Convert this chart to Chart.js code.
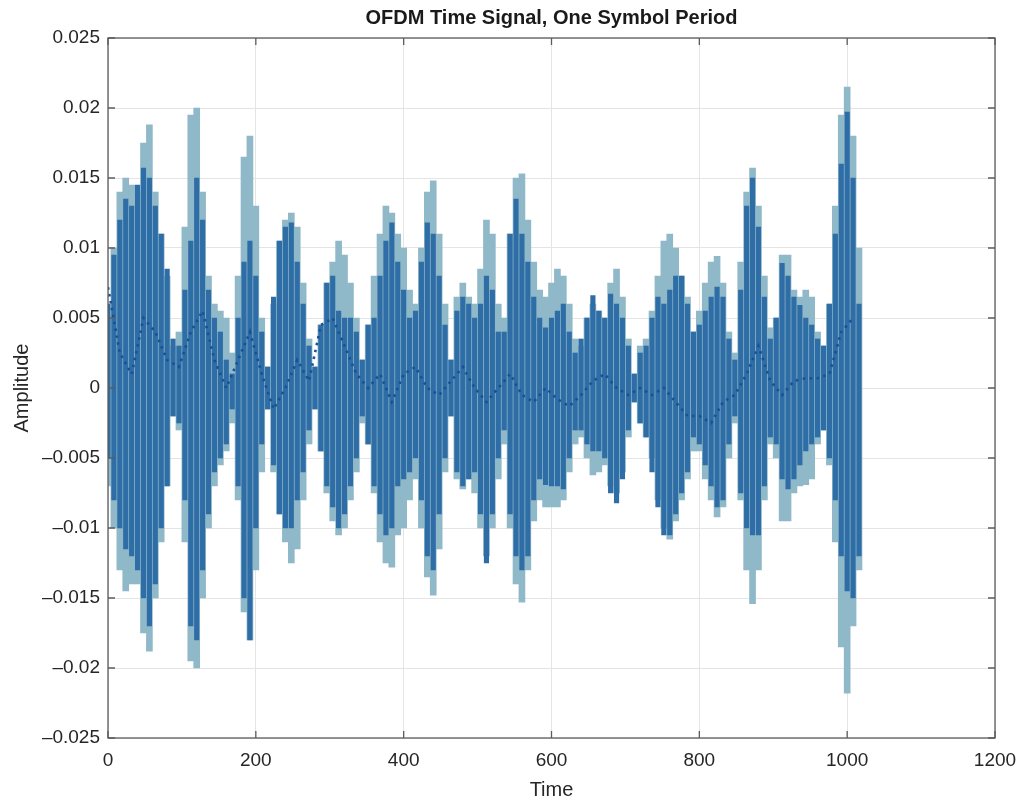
<!DOCTYPE html>
<html>
<head>
<meta charset="utf-8">
<title>OFDM Time Signal</title>
<script src="https://cdn.jsdelivr.net/npm/chart.js@4.4.1/dist/chart.umd.min.js"></script>
<style>
    html, body { margin: 0; padding: 0; background: #ffffff; }
    #wrap { width: 1018px; height: 803px; }
</style>
</head>
<body>
<div id="wrap"><canvas id="ofdmChart"></canvas></div>
<script>
// Envelope of each trace, every 8 samples (units of 1e-3)
const SAMPLE_STEP = 8;
const AMP_UNIT = 0.001;

const lightUpper = [
    5, 10, 14, 15, 14.5, 14, 17.5, 18.8, 14, 11, 8, 3, 4, 11.5, 19.5, 20, 14, 8, 6, 5.5, 5, 2.5, 8, 16.5, 18, 13,
    5, 1.5, 6, 10.5, 12, 12.5, 11.5, 7.5, 3.5, 1.5, 4.5, 7.5, 9, 10.5, 9.5, 7.5, 5, 2, 4.5, 8, 11, 13, 12.5, 11, 10,
    7, 6, 10, 14, 14.8, 11, 6, 2, 6.5, 7.5, 6.5, 6, 8.5, 12, 11, 6, 5, 11, 15, 15.3, 12, 9, 7, 6.5,
    7.5, 8.5, 8, 6, 3.5, 3, 5, 6, 5.5, 5, 7.5, 8.5, 6.5, 3.5, 1, 3, 3.5, 5.5, 8, 10.5, 11, 10, 8, 6.5, 4,
    5.5, 7.5, 9, 9.4, 7.5, 4, 2.5, 9, 14, 15.7, 13, 8, 4.3, 5, 9.5, 9.5, 7, 6.5, 7, 6.5, 4, 3, 6, 13, 19.5, 21.5, 18, 10
];
const lightLower = [
    -7, -10, -13, -14.5, -14, -14, -17.5, -18.8, -15, -11, -7, -2, -3, -11, -19.5, -20, -15, -10, -7, -5.5, -4.5, -2.5, -8, -16, -18, -13,
    -6, -1.5, -6, -9, -11, -12.5, -11.5, -8, -4, -1.5, -4.5, -7.5, -9.5, -10.5, -10, -8, -6, -2.5, -4, -7.5, -11, -12.5, -12.8, -10.5, -10,
    -8, -6.5, -10, -13.5, -14.8, -11.5, -6, -2, -6.5, -7.2, -6.5, -7.5, -10, -12, -10, -6.5, -4, -10, -14, -15.3, -13, -9.5, -8, -8.5,
    -8.5, -8.5, -8, -6, -4, -3.5, -5, -6.2, -6, -5.5, -7, -7.5, -6, -3.5, -1, -2.5, -3.5, -5, -8, -10, -10.8, -9.5, -8, -6.5, -4.5,
    -4.5, -6.5, -8, -9.2, -8.5, -5, -2.5, -8, -13, -15.4, -13, -8, -4, -5, -9.5, -9.5, -7.5, -7, -6.9, -6.5, -4, -3, -5.5, -11, -18.5, -21.8, -17, -13
];
const darkUpper = [
    6, 9.5, 12, 13.5, 13, 14.5, 15.7, 15, 13, 11, 8.5, 3.5, 3, 7, 10.5, 15, 12, 7, 5, 4, 2, 1, 5, 9, 10.5, 8,
    4, 1.5, 6.5, 10.5, 11.5, 11.8, 9, 6, 3, 1.5, 4.5, 7.5, 8, 5.5, 5, 5, 4, 2, 4.5, 5, 8, 10.5, 11.8, 9, 7,
    5, 5.5, 9, 11.8, 11, 8, 4.5, 2, 5.5, 6.5, 6, 5, 6, 8, 7, 4, 4, 11, 13.5, 11, 9, 6.5, 5, 4.3,
    5, 5.5, 6, 4, 2.5, 3.5, 5, 6.6, 5.5, 5, 6.7, 6, 5, 3, 1, 2.5, 3, 5, 6.5, 6, 7, 8, 8, 6, 4,
    4.5, 5.5, 6.5, 7.2, 6.5, 3.5, 2, 7, 13, 15, 11.5, 6.5, 3.5, 5, 8.9, 8, 6.5, 5.9, 5, 4.5, 3.5, 3, 6, 11, 16, 19.7, 15, 6
];
const darkLower = [
    -5, -8, -10, -11.5, -12, -13, -15, -17, -14, -10, -7, -2, -2.5, -8, -17, -18, -13, -9, -6, -5, -4, -1.5, -7, -15, -18, -10,
    -4, -1.5, -5.5, -9, -10, -10, -8, -6, -3, -1.5, -4.5, -7, -8.5, -10, -9, -7, -5, -2, -4, -7, -9, -10.5, -10, -7, -6.5,
    -6, -5, -8, -12, -13, -9, -5, -2, -6, -7, -6.5, -6, -9, -12.5, -9, -5, -3, -9, -12, -13, -12, -8, -6.5, -6.9,
    -7, -7, -7.2, -5, -3, -3, -4, -4.5, -4.5, -5, -7.5, -8.2, -6.5, -3, -1, -2.5, -3.5, -6, -8.5, -10.5, -10.5, -9, -7.5, -6, -3.5,
    -4, -5.5, -7, -8.5, -8, -4, -2, -7.5, -10, -10.5, -10.5, -7, -3.5, -4, -6.5, -7.2, -6.5, -5.5, -4.5, -4, -3.5, -3, -5, -8, -12, -14.5, -15, -12
];

// Dotted centre trace, read every 16 samples (units of 1e-3)
const MID_STEP = 16;
const midTrace = [
    7.2, 2.5, 1, 5, 4, 2, 1.5, 4, 5.5, 2, 0, 2, 4, 1, -1.5, 0,
    2, 0.5, 4.5, 5, 3, 1, 0, 1, -1, 1, 1.5, 0, -0.5, 0.5, 1.5, 0,
    -1, 0, 1, -0.5, -1, 0, -0.8, -1.3, -0.5, 0.5, 1, 0, -0.5, 0, -0.5, 0,
    -1, -2, -2, -2.5, -1, -0.5, 1, 3, 0.5, -0.5, 0.5, 0.7, 0.7, 1, 4, 5
];

const CHART_TITLE = 'OFDM Time Signal, One Symbol Period';
const FONT = 'Liberation Sans, Arial, Helvetica, sans-serif';
const TEXT_COLOR = '#262626';

// Build {x, y} points for Chart.js
const sampleTimes = lightUpper.map((_, i) => i * SAMPLE_STEP);
const lightBars = sampleTimes.map((t, i) => ({ x: t, y: [lightLower[i] * AMP_UNIT, lightUpper[i] * AMP_UNIT] }));
const darkBars = sampleTimes.map((t, i) => ({ x: t, y: [darkLower[i] * AMP_UNIT, darkUpper[i] * AMP_UNIT] }));
const midPoints = midTrace.map((v, i) => ({ x: i * MID_STEP, y: v * AMP_UNIT }));

// Box round the plot with inward tick marks, and the title centred over the plot
const frameBox = {
    id: 'frameBox',
    afterDatasetsDraw(chart) {
        const { ctx, chartArea: a, scales } = chart;
        const len = 7;
        ctx.save();
        ctx.strokeStyle = '#5c5c5c';
        ctx.lineWidth = 1.3;
        ctx.beginPath();
        scales.x.ticks.forEach(t => {
            const px = scales.x.getPixelForValue(t.value);
            ctx.moveTo(px, a.bottom); ctx.lineTo(px, a.bottom - len);
            ctx.moveTo(px, a.top); ctx.lineTo(px, a.top + len);
        });
        scales.y.ticks.forEach(t => {
            const py = scales.y.getPixelForValue(t.value);
            ctx.moveTo(a.left, py); ctx.lineTo(a.left + len, py);
            ctx.moveTo(a.right, py); ctx.lineTo(a.right - len, py);
        });
        ctx.stroke();
        ctx.strokeRect(a.left, a.top, a.right - a.left, a.bottom - a.top);

        ctx.fillStyle = '#1a1a1a';
        ctx.font = 'bold 20px ' + FONT;
        ctx.textAlign = 'center';
        ctx.textBaseline = 'middle';
        ctx.fillText(CHART_TITLE, (a.left + a.right) / 2, a.top - 20);
        ctx.restore();
    }
};

const ctx = document.getElementById('ofdmChart').getContext('2d');
new Chart(ctx, {
    type: 'bar',
    data: {
        datasets: [
            {
                type: 'line',
                label: 'Centre',
                data: midPoints,
                borderColor: '#1b4f96',
                borderWidth: 2.6,
                borderDash: [2.5, 4.5],
                pointRadius: 0,
                tension: 0,
                order: 0
            },
            {
                label: 'Dark trace',
                data: darkBars,
                backgroundColor: '#2e6da6',
                borderWidth: 0,
                barThickness: 4.5,
                grouped: false,
                order: 1
            },
            {
                label: 'Light trace',
                data: lightBars,
                backgroundColor: '#8fb9c8',
                borderWidth: 0,
                barThickness: 6,
                grouped: false,
                order: 2
            }
        ]
    },
    options: {
        responsive: true,
        maintainAspectRatio: false,
        animation: false,
        layout: { padding: { left: 0, right: 23, top: 38, bottom: 0 } },
        plugins: {
            legend: { display: false },
            tooltip: { enabled: false },
            title: { display: false }
        },
        scales: {
            x: {
                type: 'linear',
                min: 0,
                max: 1200,
                offset: false,
                border: { display: false },
                grid: { color: '#e4e4e4', drawTicks: false, offset: false },
                ticks: {
                    stepSize: 200,
                    color: TEXT_COLOR,
                    font: { family: FONT, size: 19 },
                    padding: 11,
                    maxRotation: 0,
                    callback: v => String(v)
                },
                title: {
                    display: true,
                    text: 'Time',
                    color: TEXT_COLOR,
                    font: { family: FONT, size: 20 },
                    padding: { top: 0, bottom: 1 }
                },
                afterFit: scale => {
                    scale.height = 65;
                    // the outer padding already leaves room for the last label
                    scale.paddingLeft = 0;
                    scale.paddingRight = 0;
                }
            },
            y: {
                type: 'linear',
                min: -0.025,
                max: 0.025,
                border: { display: false },
                grid: { color: '#e4e4e4', drawTicks: false },
                ticks: {
                    stepSize: 0.005,
                    color: TEXT_COLOR,
                    font: { family: FONT, size: 19 },
                    padding: 8,
                    callback: v => {
                        const n = Math.round(v * 1000) / 1000;
                        return n < 0 ? '\u2013' + String(-n) : String(n);
                    }
                },
                title: {
                    display: true,
                    text: 'Amplitude',
                    color: TEXT_COLOR,
                    font: { family: FONT, size: 20 },
                    padding: { top: 10, bottom: 0 }
                },
                afterFit: scale => {
                    scale.width = 108;
                    scale.paddingTop = 0;
                    scale.paddingBottom = 0;
                }
            }
        }
    },
    plugins: [frameBox]
});
</script>
</body>
</html>
